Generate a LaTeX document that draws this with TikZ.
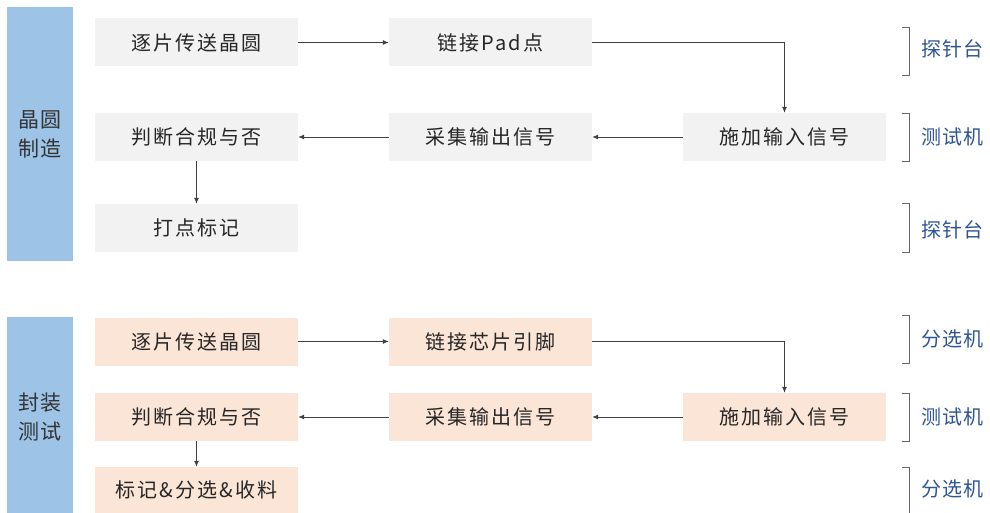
\documentclass[tikz,border=0pt]{standalone}
\usepackage{fontspec}
\newfontfamily\cjk{Noto Sans CJK SC}
\newfontfamily\cjkwide[LetterSpace=10]{Noto Sans CJK SC}
\newfontfamily\cjklabel[LetterSpace=5]{Noto Sans CJK SC}
\usetikzlibrary{arrows.meta}

\definecolor{boxgray}{HTML}{F2F2F2}
\definecolor{boxpeach}{HTML}{FBE5D6}
\definecolor{barblue}{HTML}{9DC3E6}
\definecolor{labelblue}{HTML}{2F5597}
\definecolor{linegray}{HTML}{404040}

\tikzset{
    stepbox/.style={rectangle, minimum width=203pt, minimum height=48pt, inner sep=0pt,
        text=black!85, font=\cjkwide\fontsize{20}{24}\selectfont},
    graybox/.style={stepbox, fill=boxgray},
    peachbox/.style={stepbox, fill=boxpeach},
    phasebar/.style={rectangle, fill=barblue, minimum width=66pt, inner sep=0pt,
        align=center, text=black!80, font=\cjklabel\fontsize{21}{29}\selectfont},
    tool/.style={anchor=west, text=labelblue, font=\cjklabel\fontsize{20}{24}\selectfont},
    bracket/.style={draw=black!60, line width=0.8pt},
    flow/.style={draw=linegray, line width=0.8pt, -{Latex[length=6pt,width=5pt]}}
}

\begin{document}
\begin{tikzpicture}[x=1pt,y=-1pt]
        \useasboundingbox (0,0) rectangle (990,513);
        % left phase bars
        \node[phasebar, minimum height=254pt] at (40,134) (wafer) {晶圆\\制造};
        \node[phasebar, minimum height=200pt] at (40,417) (pack) {封装\\测试};
        % wafer manufacturing steps
        \node[graybox] at (196.5,42.5) (wa) {逐片传送晶圆};
        \node[graybox] at (490.5,42.5) (wb) {链接Pad点};
        \node[graybox] at (784.5,137) (wc) {施加输入信号};
        \node[graybox] at (490.5,137) (wd) {采集输出信号};
        \node[graybox] at (196.5,137) (we) {判断合规与否};
        \node[graybox] at (196.5,228) (wf) {打点标记};
        \draw[flow] (wa) -- (wb);
        \draw[flow] (wb.east) -| (wc.north);
        \draw[flow] (wc) -- (wd);
        \draw[flow] (wd) -- (we);
        \draw[flow] (we) -- (wf);
        % packaging test steps
        \node[peachbox] at (196.5,341.5) (pa) {逐片传送晶圆};
        \node[peachbox] at (490.5,341.5) (pb) {链接芯片引脚};
        \node[peachbox] at (784.5,417) (pc) {施加输入信号};
        \node[peachbox] at (490.5,417) (pd) {采集输出信号};
        \node[peachbox] at (196.5,417) (pe) {判断合规与否};
        \node[peachbox, minimum height=46pt] at (196.5,490) (pf) {标记\&分选\&收料};
        \draw[flow] (pa) -- (pb);
        \draw[flow] (pb.east) -| (pc.north);
        \draw[flow] (pc) -- (pd);
        \draw[flow] (pd) -- (pe);
        \draw[flow] (pe) -- (pf);
        % equipment brackets
        \draw[bracket] (902,27) -- (909,27) -- (909,75) -- (902,75);
        \draw[bracket] (902,113) -- (909,113) -- (909,161) -- (902,161);
        \draw[bracket] (902,203) -- (909,203) -- (909,252) -- (902,252);
        \draw[bracket] (902,315) -- (909,315) -- (909,363) -- (902,363);
        \draw[bracket] (902,393) -- (909,393) -- (909,441) -- (902,441);
        \draw[bracket] (902,467) -- (909,467) -- (909,515);
        \node[tool] at (918,49) (ta) {探针台};
        \node[tool] at (918,137) (tb) {测试机};
        \node[tool] at (918,230) (tc) {探针台};
        \node[tool] at (918,339) (td) {分选机};
        \node[tool] at (918,417) (te) {测试机};
        \node[tool] at (918,489) (tf) {分选机};
    \end{tikzpicture}
\end{document}
